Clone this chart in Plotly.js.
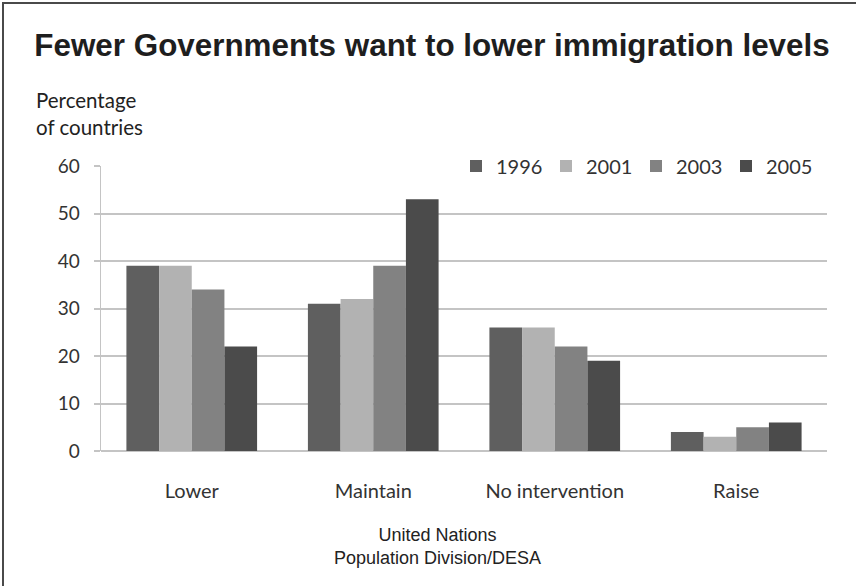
<!DOCTYPE html>
<html>
<head>
<meta charset="utf-8">
<script src="https://cdn.plot.ly/plotly-3.0.1.min.js"></script>
<style>
  html, body { margin: 0; padding: 0; background: #ffffff; overflow: hidden; }
  #frame { position: absolute; left: 0; top: 0; width: 856px; height: 586px; box-sizing: border-box; }
  #chart { position: absolute; left: 0; top: 0; width: 856px; height: 586px; }
  #edgeTop { position: absolute; left: 2px; top: 2px; width: 854px; height: 2px; background: #4a4a4a; }
  #edgeLeft { position: absolute; left: 2px; top: 2px; width: 2px; height: 584px; background: #4a4a4a; }
</style>
</head>
<body>
<div id="frame">
  <div id="chart"></div>
  <div id="edgeTop"></div>
  <div id="edgeLeft"></div>
</div>
<script>
const categories = ["Lower", "Maintain", "No intervention", "Raise"];
const seriesNames = ["1996", "2001", "2003", "2005"];
const v1996 = [39, 31, 26, 4];
const v2001 = [39, 32, 26, 3];
const v2003 = [34, 39, 22, 5];
const v2005 = [22, 53, 19, 6];
const yTicks = [0, 10, 20, 30, 40, 50, 60];
const titleText = "Fewer Governments want to lower immigration levels";
const yTitleText = "Percentage<br>of countries";
const sourceText = "United Nations<br>Population Division/DESA";

const seriesValues = [v1996, v2001, v2003, v2005];
const colors = ["#5f5f5f", "#b2b2b2", "#828282", "#4b4b4b"];

const traces = seriesNames.map((name, i) => ({
  type: "bar",
  name: name,
  x: categories,
  y: seriesValues[i],
  marker: { color: colors[i], line: { width: 0 } },
  hoverinfo: "x+y+name"
}));

const sansFont = "Lato, 'Open Sans', 'DejaVu Sans', sans-serif";
const arialFont = "'Liberation Sans', Arial, sans-serif";

const layout = {
  width: 856,
  height: 586,
  paper_bgcolor: "#ffffff",
  plot_bgcolor: "#ffffff",
  margin: { l: 101, r: 29, t: 166, b: 135, autoexpand: false },
  barmode: "group",
  bargap: 0.28,
  bargroupgap: 0,
  title: {
    text: titleText,
    font: { family: arialFont, size: 31.4, color: "#1e1e1e", weight: "bold" },
    x: 432 / 856, xref: "container", xanchor: "center",
    y: 1 - 45 / 586, yref: "container", yanchor: "middle"
  },
  xaxis: {
    type: "category",
    showgrid: false,
    showline: false,
    zeroline: false,
    ticks: "",
    ticklabelstandoff: 26,
    tickfont: { family: sansFont, size: 20, color: "#333333" }
  },
  yaxis: {
    range: [0, 60],
    tickvals: yTicks,
    ticktext: yTicks.map(String),
    showgrid: true,
    gridcolor: "#c4c4c4",
    gridwidth: 2,
    zeroline: true,
    zerolinecolor: "#c4c4c4",
    zerolinewidth: 2,
    showline: true,
    linecolor: "#c4c4c4",
    linewidth: 1.5,
    ticks: "outside",
    ticklen: 6,
    tickcolor: "#c4c4c4",
    tickwidth: 2,
    ticklabelstandoff: 10,
    tickfont: { family: sansFont, size: 19, color: "#333333" },
    fixedrange: true
  },
  legend: {
    orientation: "h",
    x: (456 - 101) / 726, xanchor: "left",
    y: 1.0, yanchor: "middle",
    bgcolor: "#ffffff",
    font: { family: sansFont, size: 20, color: "#333333" },
    entrywidth: 45,
    entrywidthmode: "pixels",
    itemwidth: 30,
    traceorder: "normal"
  },
  annotations: [
    {
      text: yTitleText,
      xref: "paper", yref: "paper",
      x: (34 - 101) / 726, xanchor: "left",
      y: (451 - 86) / 285, yanchor: "top",
      align: "left",
      showarrow: false,
      font: { family: sansFont, size: 20.5, color: "#222222" }
    },
    {
      text: sourceText,
      xref: "paper", yref: "paper",
      x: (437 - 101) / 726, xanchor: "center",
      y: (451 - 523) / 285, yanchor: "top",
      align: "center",
      showarrow: false,
      font: { family: arialFont, size: 18, color: "#222222" }
    }
  ],
  showlegend: true
};

Plotly.newPlot("chart", traces, layout, { displayModeBar: false, staticPlot: true });
</script>
</body>
</html>
